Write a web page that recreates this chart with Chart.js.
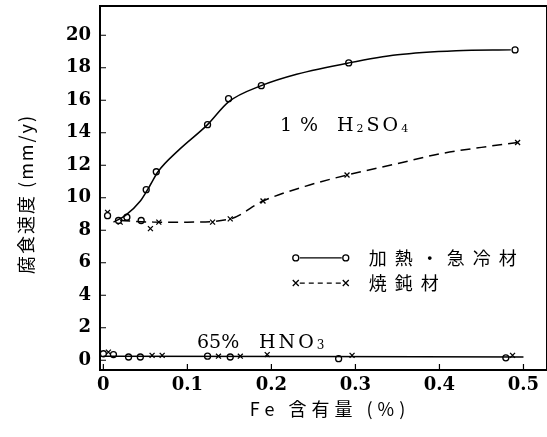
<!DOCTYPE html>
<html>
<head>
<meta charset="utf-8">
<script src="https://cdn.jsdelivr.net/npm/chart.js@4"></script>
<style>
  html, body { margin: 0; padding: 0; background: #fff; overflow: hidden; }
  #wrap { width: 547px; height: 437px; }
</style>
</head>
<body>
<div id="wrap"><canvas id="corrosion"></canvas></div>
<script>
  // x ticks / y ticks
  const xTicks = [0, 0.1, 0.2, 0.3, 0.4, 0.5];
  const yTicks = [0, 2, 4, 6, 8, 10, 12, 14, 16, 18, 20];

  // 1% H2SO4, 加熱・急冷材 (circles)
  const quenchX = [0.005, 0.018, 0.028, 0.045, 0.051, 0.063, 0.124, 0.149, 0.188, 0.292, 0.49];
  const quenchY = [8.9, 8.6, 8.8, 8.6, 10.5, 11.6, 14.5, 16.1, 16.9, 18.3, 19.1];
  // smooth curve as drawn
  const quenchCurveX = [0.012, 0.026, 0.044, 0.056, 0.065, 0.089, 0.124, 0.149, 0.188, 0.23, 0.292, 0.35, 0.42, 0.485];
  const quenchCurveY = [8.5, 8.9, 9.8, 10.8, 11.6, 12.9, 14.5, 15.9, 16.9, 17.6, 18.3, 18.8, 19.05, 19.1];

  // 1% H2SO4, 焼鈍材 (crosses)
  const annealX = [0.005, 0.02, 0.056, 0.066, 0.13, 0.151, 0.19, 0.29, 0.493];
  const annealY = [9.1, 8.5, 8.1, 8.5, 8.5, 8.7, 9.8, 11.4, 13.4];
  const annealCurveX = [0.02, 0.06, 0.1, 0.151, 0.19, 0.24, 0.29, 0.35, 0.4, 0.45, 0.493];
  const annealCurveY = [8.6, 8.5, 8.5, 8.7, 9.8, 10.7, 11.4, 12.1, 12.7, 13.1, 13.4];

  // 65% HNO3
  const nitricQX = [0.0, 0.012, 0.03, 0.044, 0.124, 0.151, 0.28, 0.479];
  const nitricQY = [0.4, 0.35, 0.2, 0.2, 0.25, 0.2, 0.1, 0.15];
  const nitricAX = [0.006, 0.058, 0.07, 0.137, 0.163, 0.195, 0.296, 0.487];
  const nitricAY = [0.5, 0.3, 0.3, 0.25, 0.25, 0.35, 0.3, 0.3];
  const nitricLineX = [0.0, 0.5];
  const nitricLineY = [0.25, 0.2];

  const pts = (xs, ys) => xs.map((x, i) => ({x: x, y: ys[i]}));

  const serif = "'DejaVu Serif', serif";
  const cjk = "'Noto Sans CJK JP', serif";

  // formula text: runs of [text, size, baseline shift], laid out left to right
  function formula(ctx, x, y, sp, list) {
    ctx.letterSpacing = sp + 'px';
    list.forEach(([t, size, dy]) => {
      ctx.font = size + 'px ' + serif;
      ctx.fillText(t, x, y + (dy || 0));
      x += ctx.measureText(t).width;
    });
    ctx.letterSpacing = '0px';
  }

  const frame = {
    id: 'frame',
    afterDraw: (chart) => {
      const {ctx, chartArea: a, scales} = chart;
      const x = scales.x, y = scales.y;
      ctx.save();
      ctx.strokeStyle = '#000';
      ctx.lineWidth = 2;
      ctx.strokeRect(a.left, a.top, a.right - a.left, a.bottom - a.top);
      ctx.lineWidth = 1.2;
      ctx.beginPath();
      yTicks.forEach(v => {
        const p = y.getPixelForValue(v);
        ctx.moveTo(a.left, p); ctx.lineTo(a.left + 6, p);
      });
      xTicks.forEach(v => {
        const p = x.getPixelForValue(v);
        ctx.moveTo(p, a.bottom); ctx.lineTo(p, a.bottom - 6);
      });
      ctx.stroke();

      // annotations
      ctx.fillStyle = '#000';
      ctx.textBaseline = 'alphabetic';
      ctx.textAlign = 'left';
      formula(ctx, 280, 131, 0, [['1', 19]]);
      formula(ctx, 300, 131, 0, [['%', 19]]);
      formula(ctx, 337, 131, 3, [['H', 19], ['2', 11, 1], ['SO', 19], ['4', 11, 1]]);
      formula(ctx, 197, 348, 0, [['65%', 19]]);
      formula(ctx, 259, 348, 3, [['HNO', 19], ['3', 12, 1]]);

      // legend
      ctx.textBaseline = 'middle';
      const lx = x.getPixelForValue(0.229);
      const rows = [
        {y: y.getPixelForValue(6.3), dash: [], style: 'circle', text: '加熱・急冷材'},
        {y: y.getPixelForValue(4.75), dash: [5, 4], style: 'cross', text: '焼鈍材'}
      ];
      rows.forEach(r => {
        ctx.lineWidth = 1.3;
        ctx.setLineDash(r.dash);
        ctx.beginPath();
        ctx.moveTo(lx + 4, r.y); ctx.lineTo(lx + 46, r.y);
        ctx.stroke();
        ctx.setLineDash([]);
        [lx, lx + 50].forEach(px => {
          ctx.beginPath();
          if (r.style === 'circle') {
            ctx.arc(px, r.y, 3, 0, Math.PI * 2);
          } else {
            ctx.moveTo(px - 3, r.y - 3); ctx.lineTo(px + 3, r.y + 3);
            ctx.moveTo(px + 3, r.y - 3); ctx.lineTo(px - 3, r.y + 3);
          }
          ctx.stroke();
        });
        ctx.font = '18px ' + cjk;
        ctx.letterSpacing = '8px';
        ctx.fillText(r.text, lx + 73, r.y);
      });

      // axis titles
      ctx.font = '18px ' + cjk;
      ctx.letterSpacing = '5px';
      ctx.textAlign = 'center';
      ctx.fillText('Fe 含有量 (%)', 330, 409);
      ctx.save();
      ctx.translate(26, 194);
      ctx.rotate(-Math.PI / 2);
      ctx.letterSpacing = '2px';
      ctx.fillText('腐食速度 (mm/y)', 0, 0);
      ctx.restore();
      ctx.letterSpacing = '0px';
      ctx.restore();
    }
  };

  const markerSet = (label, data, style) => ({
    type: 'scatter',
    label: label,
    data: data,
    showLine: false,
    pointStyle: style,
    pointRadius: style === 'circle' ? 3 : 3.5,
    pointBorderWidth: 1.3,
    pointBackgroundColor: '#fff',
    borderColor: '#000',
    backgroundColor: '#fff'
  });

  const curveSet = (label, data, dash) => ({
    type: 'line',
    label: label,
    data: data,
    pointRadius: 0,
    borderColor: '#000',
    borderWidth: 1.5,
    borderDash: dash,
    cubicInterpolationMode: 'monotone',
    fill: false
  });

  const config = {
    data: {
      datasets: [
        curveSet('加熱・急冷材 curve', pts(quenchCurveX, quenchCurveY), []),
        curveSet('焼鈍材 curve', pts(annealCurveX, annealCurveY), [10, 6]),
        curveSet('HNO3 line', pts(nitricLineX, nitricLineY), []),
        markerSet('加熱・急冷材', pts(quenchX, quenchY), 'circle'),
        markerSet('焼鈍材', pts(annealX, annealY), 'crossRot'),
        markerSet('HNO3 加熱・急冷材', pts(nitricQX, nitricQY), 'circle'),
        markerSet('HNO3 焼鈍材', pts(nitricAX, nitricAY), 'crossRot')
      ]
    },
    plugins: [frame],
    options: {
      responsive: true,
      maintainAspectRatio: false,
      animation: false,
      layout: { autoPadding: false, padding: { top: 6, right: 0, left: 0, bottom: 0 } },
      plugins: {
        legend: { display: false },
        tooltip: { enabled: false }
      },
      scales: {
        x: {
          type: 'linear',
          min: -0.004,
          max: 0.528,
          grid: { display: false, drawTicks: false },
          border: { display: false },
          afterFit: (s) => { s.height = 67; s.paddingLeft = 0; s.paddingRight = 0; },
          afterBuildTicks: (s) => { s.ticks = xTicks.map(v => ({value: v})); },
          ticks: {
            padding: 5,
            color: '#000',
            font: { family: serif, size: 18, weight: 'bold' },
            callback: (v) => v === 0 ? '0' : v.toFixed(1)
          }
        },
        y: {
          type: 'linear',
          min: -0.6,
          max: 21.8,
          grid: { display: false, drawTicks: false },
          border: { display: false },
          afterFit: (s) => { s.width = 100; s.paddingTop = 0; s.paddingBottom = 0; },
          afterBuildTicks: (s) => { s.ticks = yTicks.map(v => ({value: v})); },
          ticks: {
            padding: 9,
            color: '#000',
            font: { family: serif, size: 18, weight: 'bold' },
            callback: (v) => String(v)
          }
        }
      }
    }
  };

  const myChart = new Chart(document.getElementById('corrosion'), config);
</script>
</body>
</html>
